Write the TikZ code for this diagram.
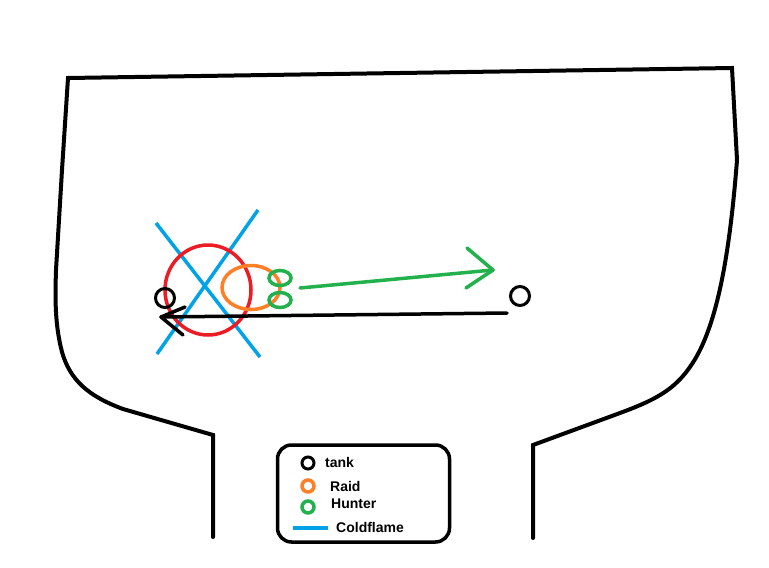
\documentclass[tikz,border=0pt]{standalone}
\usepackage{fontspec}
\setmainfont{Liberation Sans}
\begin{document}
\begin{tikzpicture}[x=1pt,y=-1pt,
  outline/.style={line width=4pt,line join=miter,line cap=round},
  blueline/.style={draw=cfblue,line width=3.5pt},
  tankring/.style={circle,draw=black,line width=3pt,minimum size=20pt,inner sep=0pt},
  legtext/.style={font=\bfseries\fontsize{14}{16}\selectfont,anchor=west,inner sep=0pt},
  arrowline/.style={line width=3.5pt,line cap=round,line join=round}]
\definecolor{cfblue}{RGB}{0,162,232}
\definecolor{pred}{RGB}{237,28,36}
\definecolor{porange}{RGB}{255,127,39}
\definecolor{pgreen}{RGB}{34,177,76}
\useasboundingbox (0,0) rectangle (769,568);
\fill[white] (0,0) rectangle (769,568);
% room outline
\draw[outline] (213,537) -- (213,435) -- (123,409)
  .. controls (88,396) and (70,380) .. (62,352)
  .. controls (55,325) and (55,300) .. (56,270)
  -- (62,170) -- (68,78) -- (732,68) -- (737,160)
  .. controls (730,250) and (718,325) .. (692,364)
  .. controls (675,390) and (655,400) .. (620,413)
  -- (533,445) -- (533,538);
% coldflame X
\draw[blueline] (156,223) -- (260,357);
\draw[blueline] (258,210) -- (157,354);
% raid circle (red), raid orange, hunters
\draw[pred,line width=3.5pt] (208,290) ellipse [x radius=43,y radius=45];
\draw[porange,line width=3.5pt] (251,287.5) ellipse [x radius=29,y radius=22];
\draw[pgreen,line width=3.5pt] (280,278) ellipse [x radius=11,y radius=7.5];
\draw[pgreen,line width=3.5pt] (280,300) ellipse [x radius=11,y radius=7.5];
% tanks
\node[tankring,minimum size=19pt] (tankL) at (165,298) {};
\node[tankring,minimum size=19pt] (tankR) at (520,296) {};
% black arrow
\coordinate (bstart) at (507,313);
\coordinate (btip) at (161,317);
\draw[arrowline] (bstart) -- (btip);
\draw[arrowline] (185,307) -- (btip) -- (183,335);
% green arrow
\coordinate (gstart) at (300,288);
\coordinate (gtip) at (493,270);
\draw[arrowline,pgreen] (gstart) -- (gtip);
\draw[arrowline,pgreen] (467,248) -- (gtip) -- (466,288);
% legend
\node[draw=black,line width=3.5pt,rounded corners=14pt,minimum width=172pt,minimum height=97pt,inner sep=0pt] (legend) at (363.5,493.5) {};
\draw[black,line width=3pt] (308,463) circle [radius=6];
\node[legtext] (ltank) at (325,462) {tank};
\draw[porange,line width=3.5pt] (308,486) circle [radius=6];
\node[legtext] (lraid) at (330,486) {Raid};
\draw[pgreen,line width=3.5pt] (308,507) circle [radius=6];
\node[legtext] (lhunter) at (331,504) {Hunter};
\draw[cfblue,line width=3.5pt] (293,528) -- (328,528);
\node[legtext] (lcold) at (336,527) {Coldflame};
\end{tikzpicture}
\end{document}
